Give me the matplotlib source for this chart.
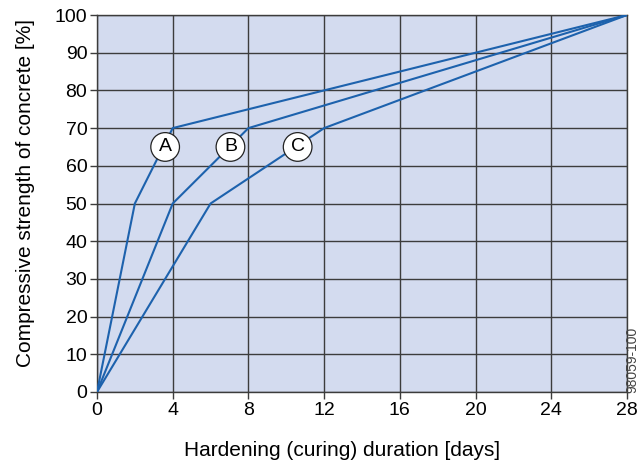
import matplotlib
matplotlib.use("Agg")
import matplotlib.pyplot as plt

plt.rcParams['font.family'] = ['Liberation Sans', 'DejaVu Sans']

# curing curves: days -> % strength
days_a = [0, 2, 4, 28]
days_b = [0, 4, 8, 28]
days_c = [0, 6, 12, 28]
strength = [0, 50, 70, 100]

labels = ["A", "B", "C"]
label_x = [3.6, 7.05, 10.6]
label_y = [65, 65, 65]

x_ticks = [0, 4, 8, 12, 16, 20, 24, 28]
y_ticks = list(range(0, 101, 10))

line_col = "#1d62ad"
bg_col = "#d3dbef"
grid_col = "#3c3c3c"

W, H = 641, 463
fig = plt.figure(figsize=(W / 100, H / 100), dpi=100)
ax = fig.add_axes([97 / W, 1 - 392 / H, 530 / W, 377 / H])
ax.set_facecolor(bg_col)

for d in (days_a, days_b, days_c):
    ax.plot(d, strength, color=line_col, lw=1.5, zorder=3)

for lab, lx, ly in zip(labels, label_x, label_y):
    ax.text(lx, ly, lab, ha="center", va="center", fontsize=14, zorder=4,
            bbox=dict(boxstyle="circle,pad=0.3", fc="white", ec="#222222", lw=0.9))

ax.set_xlim(0, 28)
ax.set_ylim(0, 100)
ax.set_xticks(x_ticks)
ax.set_yticks(y_ticks)
ax.grid(True, color=grid_col, lw=1.0, zorder=1)
ax.set_axisbelow(True)
for s in ax.spines.values():
    s.set_color(grid_col)
    s.set_linewidth(1.0)
ax.tick_params(axis="both", labelsize=14, length=5, color=grid_col, width=1.0, pad=2)

fig.text(342 / W, 1 - 451 / H, "Hardening (curing) duration [days]",
         fontsize=15, ha="center", va="center")
fig.text(26 / W, 1 - 193 / H, "Compressive strength of concrete [%]",
         fontsize=15, ha="center", va="center", rotation=90)

fig.text(632 / W, 1 - 360 / H, "98059-100", rotation=90, fontsize=10,
         color="#444444", ha="center", va="center")

fig.savefig("out.png", dpi=100)
